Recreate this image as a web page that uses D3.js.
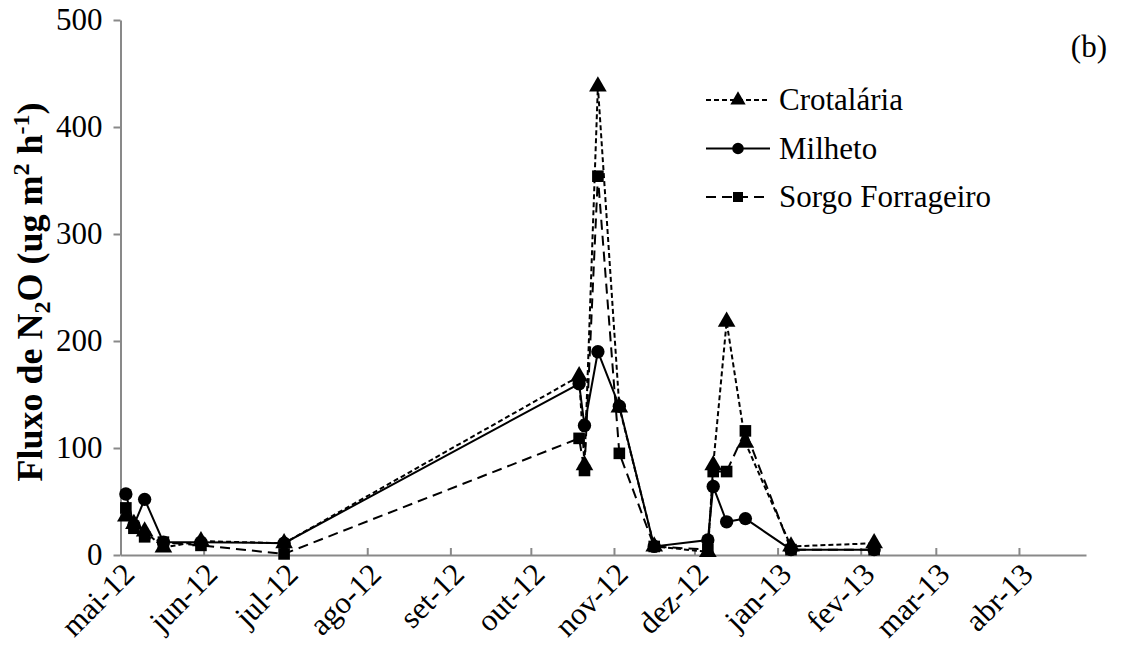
<!DOCTYPE html>
<html>
<head>
<meta charset="utf-8">
<script src="https://cdn.jsdelivr.net/npm/d3@7"></script>
<style>
  body { margin: 0; background: #fff; }
  svg text { font-family: "Liberation Serif", "Times New Roman", serif; fill: #000; }
</style>
</head>
<body>
<svg id="chart" width="1126" height="657"></svg>
<script>
// Datas de coleta (dias de amostragem)
const datas = ["2012-05-03", "2012-05-06", "2012-05-10", "2012-05-17", "2012-05-31", "2012-07-01",
  "2012-10-19", "2012-10-21", "2012-10-26", "2012-11-03", "2012-11-16",
  "2012-12-06", "2012-12-08", "2012-12-13", "2012-12-20", "2013-01-06", "2013-02-06"];

// Fluxo de N2O por cobertura (ug m2 h-1)
const crotalaria = [36, 29, 22, 7, 13, 11, 167, 84, 438, 138, 8, 3, 84, 218, 105, 8, 11];
const milheto = [57, 28, 52, 12, 12, 11, 160, 121, 190, 139, 8, 14, 64, 31, 34, 5, 5];
const sorgo = [44, 25, 17, 12, 9, 1, 109, 79, 354, 95, 8, 5, 78, 78, 116, 5, 5];

const yTicks = [0, 100, 200, 300, 400, 500];
const meses = ["jan", "fev", "mar", "abr", "mai", "jun", "jul", "ago", "set", "out", "nov", "dez"];

const series = [
  { nome: "Crotalária", valores: crotalaria, dash: "5,3", marcador: d3.symbolTriangle, tam: 135 },
  { nome: "Milheto", valores: milheto, dash: null, marcador: d3.symbolCircle, tam: 140 },
  { nome: "Sorgo Forrageiro", valores: sorgo, dash: "10,6", marcador: d3.symbolSquare, tam: 135 }
];

const svg = d3.select("#chart");
const parse = d3.utcParse("%Y-%m-%d");
const dias = datas.map(parse);

const x = d3.scaleUtc()
  .domain([Date.UTC(2012, 4, 1), Date.UTC(2013, 3, 26)])
  .range([120.5, 1086]);

const y = d3.scaleLinear()
  .domain([0, 500])
  .range([555, 20]);

const corEixo = "#898989";
const fonte = 31;

// Eixo X (ticks mensais para dentro)
const xAxis = svg.append("g")
  .attr("transform", `translate(0,${y(0)})`)
  .call(d3.axisBottom(x)
    .ticks(d3.utcMonth.every(1))
    .tickSizeInner(-7)
    .tickSizeOuter(0)
    .tickFormat(d => meses[d.getUTCMonth()] + "-" + String(d.getUTCFullYear()).slice(2)));
xAxis.select(".domain").attr("stroke", corEixo).attr("stroke-width", 2);
xAxis.selectAll(".tick line").attr("stroke", corEixo).attr("stroke-width", 2);
xAxis.selectAll(".tick text")
  .attr("font-size", fonte)
  .attr("text-anchor", "end")
  .attr("transform", "translate(2,8) rotate(-45)")
  .attr("dy", "0.6em")
  .attr("y", 0);

// Eixo Y
const yAxis = svg.append("g")
  .attr("transform", `translate(${x.range()[0]},0)`)
  .call(d3.axisLeft(y).tickValues(yTicks).tickSizeInner(7).tickSizeOuter(0).tickPadding(11));
yAxis.select(".domain").attr("stroke", corEixo).attr("stroke-width", 2);
yAxis.selectAll(".tick line").attr("stroke", corEixo).attr("stroke-width", 2);
yAxis.selectAll(".tick text").attr("font-size", fonte);

// Título do eixo Y
const titulo = svg.append("text")
  .attr("transform", "translate(42,292) rotate(-90)")
  .attr("text-anchor", "middle")
  .attr("font-size", 36)
  .attr("font-weight", "bold");
titulo.append("tspan").text("Fluxo de N");
titulo.append("tspan").attr("font-size", 24).attr("dy", 8).text("2");
titulo.append("tspan").attr("dy", -8).text("O (ug m");
titulo.append("tspan").attr("font-size", 24).attr("dy", -13).text("2");
titulo.append("tspan").attr("dy", 13).text(" h");
titulo.append("tspan").attr("font-size", 24).attr("dy", -13).text("-1");
titulo.append("tspan").attr("dy", 13).text(")");

// Linhas e marcadores
series.forEach(s => {
  const pts = dias.map((d, i) => [d, s.valores[i]]);
  svg.append("path")
    .datum(pts)
    .attr("fill", "none")
    .attr("stroke", "#000")
    .attr("stroke-width", 2)
    .attr("stroke-dasharray", s.dash)
    .attr("d", d3.line().x(d => x(d[0])).y(d => y(d[1])));
  svg.append("g").selectAll("path")
    .data(pts)
    .enter()
    .append("path")
    .attr("transform", d => `translate(${x(d[0])},${y(d[1])})`)
    .attr("d", d3.symbol().type(s.marcador).size(s.tam))
    .attr("fill", "#000");
});

// Legenda
const leg = svg.append("g");
series.forEach((s, i) => {
  const ly = 100 + i * 48.5;
  leg.append("line")
    .attr("x1", 706).attr("x2", 770)
    .attr("y1", ly).attr("y2", ly)
    .attr("stroke", "#000").attr("stroke-width", 2)
    .attr("stroke-dasharray", s.dash);
  leg.append("path")
    .attr("transform", `translate(738,${ly})`)
    .attr("d", d3.symbol().type(s.marcador).size(s.tam * 0.75))
    .attr("fill", "#000");
  leg.append("text")
    .attr("x", 779).attr("y", ly)
    .attr("dy", "0.33em")
    .attr("font-size", fonte)
    .text(s.nome);
});

svg.append("text")
  .attr("x", 1107).attr("y", 47)
  .attr("dy", "0.33em")
  .attr("text-anchor", "end")
  .attr("font-size", fonte)
  .text("(b)");
</script>
</body>
</html>
